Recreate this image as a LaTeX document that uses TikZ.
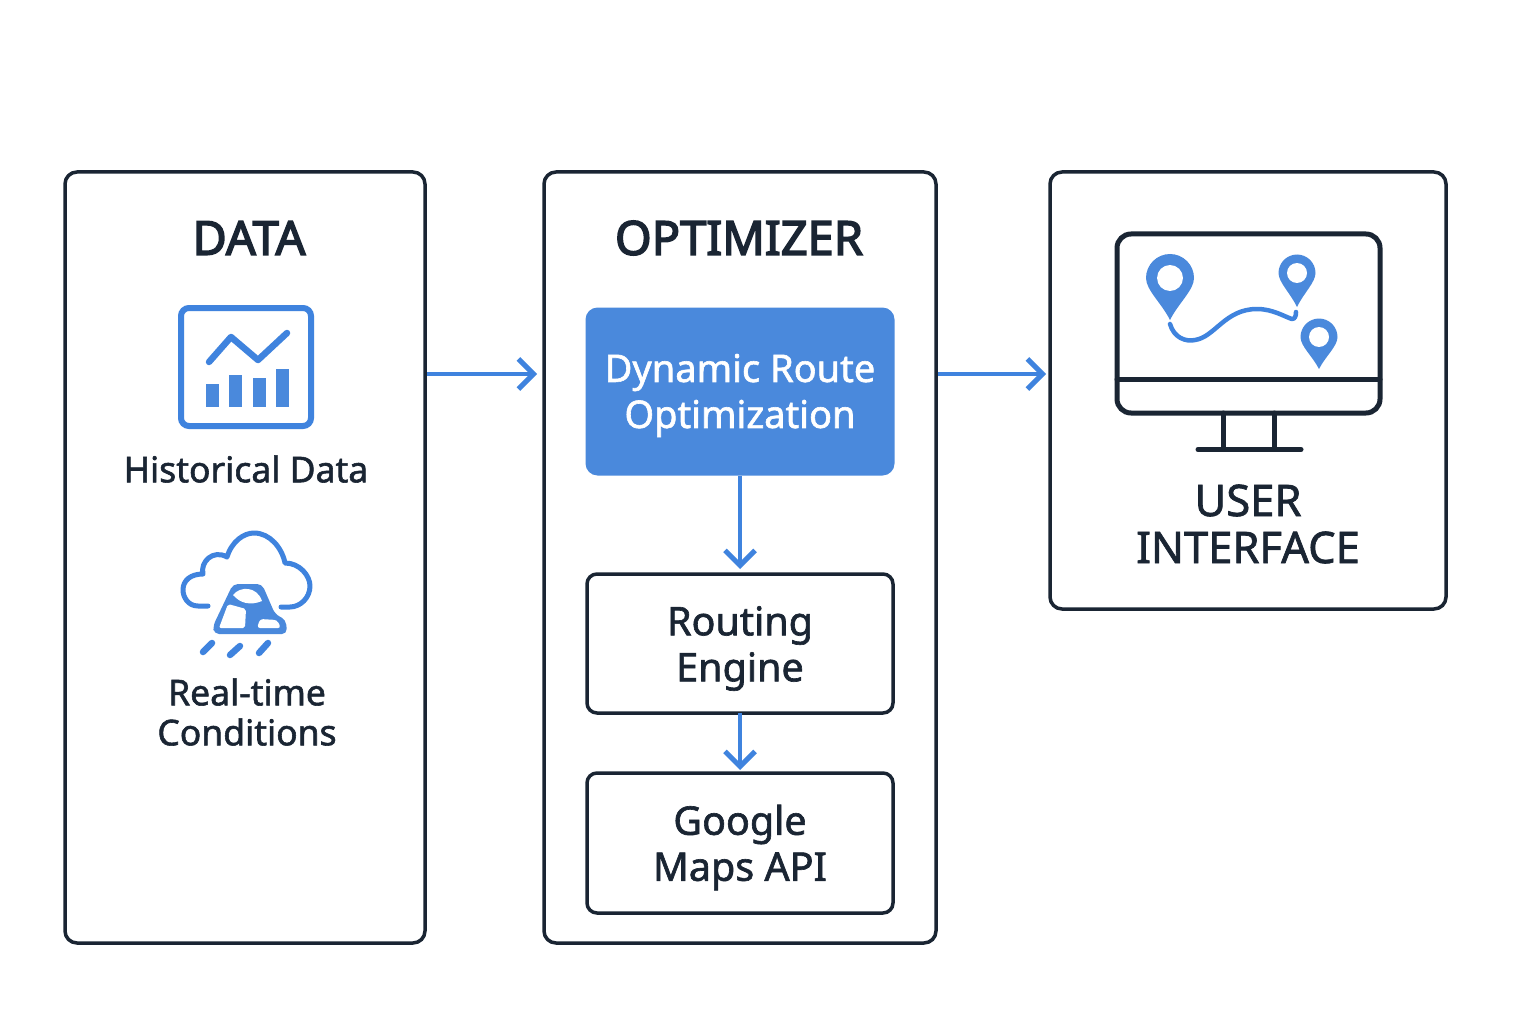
\documentclass[tikz,border=0pt]{standalone}
\usepackage{fontspec}
\usepackage{xcolor}
\setmainfont{Noto Sans}
\newfontface\medfont{Noto Sans}[FakeBold=1.6]
\newfontface\boldfont{Noto Sans}[FakeBold=3.2]
\usetikzlibrary{arrows.meta,positioning}
\definecolor{rtdark}{HTML}{1A2533}
\definecolor{rtblue}{HTML}{4A89DC}
\definecolor{rtline}{HTML}{3F83DE}
\newcommand{\mappin}[4]{%
  \fill[rtblue] (#1,#2+#4) .. controls ({#1-.35*#3},{#2+.6*#4}) and ({#1-#3},{#2+.5*#3}) .. ({#1-#3},#2)
    .. controls ({#1-#3},{#2-.55*#3}) and ({#1-.55*#3},{#2-#3}) .. (#1,{#2-#3})
    .. controls ({#1+.55*#3},{#2-#3}) and ({#1+#3},{#2-.55*#3}) .. ({#1+#3},#2)
    .. controls ({#1+#3},{#2+.5*#3}) and ({#1+.35*#3},{#2+.6*#4}) .. (#1,#2+#4) -- cycle;
  \fill[white] (#1,#2) circle[radius={.54*#3}];
}
\begin{document}
\begin{tikzpicture}[
  x=1pt, y=-1pt, outer sep=0pt,
  panel/.style={draw=rtdark, line width=3.5pt, rounded corners=12pt, fill=white, anchor=north west},
  inner/.style={draw=rtdark, line width=3.5pt, rounded corners=10pt, fill=white, minimum width=306pt},
  innertext/.style={align=center, font=\fontsize{39.5}{46}\medfont, text=rtdark},
  hero/.style={fill=rtblue, rounded corners=12pt, minimum width=309pt, minimum height=168pt},
  herotext/.style={align=center, font=\fontsize{38}{46}\medfont, text=white},
  title/.style={font=\fontsize{47}{50}\boldfont, text=rtdark},
  label/.style={align=center, font=\fontsize{35.5}{40}\medfont, text=rtdark},
  arr/.style={-{Straight Barb[length=15pt,width=30pt,line width=5pt]}, line width=4pt, draw=rtline},
  icon/.style={draw=rtline, line width=6.5pt, line cap=round, line join=round},
  screen/.style={draw=rtdark, line width=5pt, line cap=round}
]
\useasboundingbox (0,0) rectangle (1536,1024);
\fill[white] (0,0) rectangle (1536,1024);
% panels
\node[panel, minimum width=360pt, minimum height=771pt] (data) at (65,172) {};
\node[panel, minimum width=392pt, minimum height=771pt] (opt) at (544,172) {};
\node[panel, minimum width=396pt, minimum height=437pt] (ui) at (1050,172) {};
\node[title] (datatitle) at (249,238) {DATA};
\node[title] (opttitle) at (739,238) {OPTIMIZER};
% optimizer column
\node[hero] (dyn) at (740,391.5) {};
\node[inner, minimum height=139pt, below=98.5pt of dyn] (routing) {};
\node[inner, minimum height=140pt, below=60pt of routing] (maps) {};
\node[herotext] (dyntext) at ([yshift=-4pt]dyn.center) {Dynamic Route\\Optimization};
\node[innertext] (routingtext) at ([yshift=-5pt]routing.center) {Routing\\Engine};
\node[innertext] (mapstext) at ([yshift=-4.5pt]maps.center) {Google\\Maps API};
\draw[arr, shorten >=5pt] (dyn) -- (routing);
\draw[arr, shorten >=3pt] (routing) -- (maps);
% labels
\node[label] (hist) at (246,469) {Historical Data};
\node[label] (cond) at (247,712) {Real-time\\Conditions};
\node[label, font=\fontsize{43.5}{47}\medfont] (uitext) at (1248,524) {USER\\INTERFACE};
% links between panels
\coordinate (dataout) at (427,374);
\coordinate (optin) at (537,374);
\coordinate (optout) at (938,374);
\coordinate (uiin) at (1046,374);
\draw[arr] (dataout) -- (optin);
\draw[arr] (optout) -- (uiin);
% chart icon
\draw[draw=rtline, line width=6pt, rounded corners=8pt] (181,308) rectangle (311,426);
\fill[rtblue] (206,384) rectangle (219,407);
\fill[rtblue] (229,375) rectangle (242,407);
\fill[rtblue] (253,378) rectangle (266,407);
\fill[rtblue] (276,369) rectangle (289,407);
\draw[icon] (209,362) -- (231,337) -- (258,360) -- (287,333);
% cloud icon
\draw[icon, line width=5pt] (208,606) -- (198,606) .. controls (188,606) and (183,597) .. (183,590)
  .. controls (183,580) and (191,574) .. (203,574)
  .. controls (200,562) and (213,549) .. (227,557)
  .. controls (232,541) and (244,533) .. (254,533)
  .. controls (270,533) and (282,548) .. (285,563)
  .. controls (300,563) and (310,576) .. (310,586)
  .. controls (310,598) and (300,607) .. (290,607) -- (281,607);
\fill[rtblue, rounded corners=5pt] (233,584) -- (262,584) -- (275,614) -- (286,620) -- (287,634) -- (214,634) -- (213,626) -- cycle;
\fill[white] (233,595) .. controls (240,586) and (257,586) .. (262,601) .. controls (250,606) and (240,603) .. (233,595) -- cycle;
\fill[white, rounded corners=2pt] (228,604) -- (246,609) -- (245,628) -- (219,628) -- cycle;
\fill[white, rounded corners=3pt] (260,619) -- (277,620) -- (281,628) -- (257,628) -- cycle;
\draw[icon] (212,643) -- (203,652);
\draw[icon] (240,646) -- (230,655);
\draw[icon] (268,643) -- (259,653);
% monitor icon
\draw[screen, rounded corners=14pt] (1117,234) rectangle (1380,413);
\draw[screen] (1117,379) -- (1380,379);
\draw[screen] (1223,413) -- (1223,449);
\draw[screen] (1274,413) -- (1274,449);
\draw[screen] (1198,449.5) -- (1301,449.5);
\mappin{1170}{278}{24}{42}
\mappin{1297}{273}{18.5}{34}
\mappin{1319}{337}{18.5}{32}
\draw[icon, line width=4.5pt] (1170,324) .. controls (1174,338) and (1186,342) .. (1195,340)
  .. controls (1215,337) and (1225,309) .. (1257,309)
  .. controls (1273,309) and (1285,317) .. (1292,319)
  .. controls (1295,319) and (1296,316) .. (1296,312);
\end{tikzpicture}
\end{document}
